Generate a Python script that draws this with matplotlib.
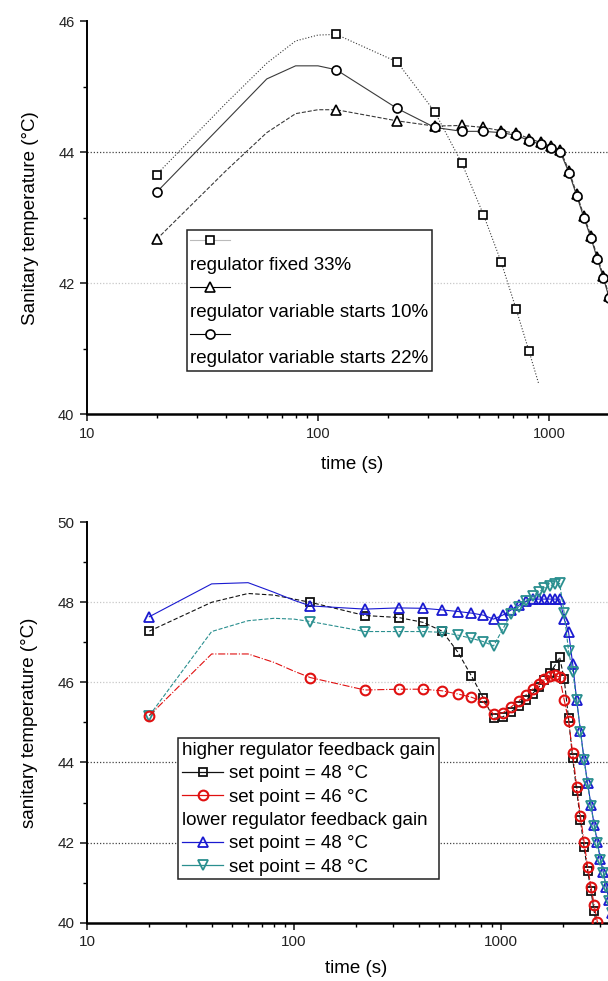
import matplotlib
matplotlib.use("Agg")
import matplotlib.pyplot as plt
from matplotlib.lines import Line2D
from matplotlib.ticker import LogLocator, FixedLocator, MultipleLocator, NullFormatter

plt.rcParams['font.family'] = ['Liberation Sans', 'DejaVu Sans']

# ---------------- data: top panel ----------------
t_fixed = [20, 40, 60, 80, 100, 120, 220, 320, 420, 520, 620, 720, 820, 900]
T_fixed = [43.66, 44.75, 45.36, 45.70, 45.79, 45.80, 45.38, 44.62, 43.83, 43.05,
           42.33, 41.61, 40.96, 40.48]

t_var = [20, 40, 60, 80, 100, 120, 220, 320, 420, 520, 620, 720, 820, 920, 1020,
         1120, 1220, 1320, 1420, 1520, 1620, 1720, 1820, 1920]
T_var10 = [42.67, 43.72, 44.30, 44.59, 44.65, 44.65, 44.48, 44.40, 44.41, 44.38,
           44.33, 44.29, 44.21, 44.15, 44.09, 44.03, 43.72, 43.36, 43.02, 42.72,
           42.40, 42.11, 41.81, 41.51]
T_var22 = [43.39, 44.48, 45.12, 45.32, 45.32, 45.26, 44.67, 44.38, 44.32, 44.32,
           44.30, 44.26, 44.18, 44.12, 44.06, 44.00, 43.69, 43.33, 42.99, 42.69,
           42.37, 42.08, 41.78, 41.48]

top_labels = ["regulator fixed 33%", "regulator variable starts 10%",
              "regulator variable starts 22%"]

# ---------------- data: bottom panel ----------------
t_b = [20, 40, 60, 80, 100, 120, 220, 320, 420, 520, 620, 720, 820, 920, 1020,
       1120, 1220, 1320, 1420, 1520, 1620, 1720, 1820, 1920, 2020, 2120, 2220,
       2320, 2420, 2520, 2620, 2720, 2820, 2920, 3020, 3120, 3220, 3320, 3420, 3520]

T_hi48 = [47.28, 48.00, 48.22, 48.18, 48.08, 48.00, 47.67, 47.62, 47.50, 47.28,
          46.75, 46.16, 45.62, 45.10, 45.14, 45.27, 45.41, 45.56, 45.72, 45.88,
          46.05, 46.24, 46.42, 46.63, 46.08, 45.10, 44.10, 43.30, 42.56, 41.88,
          41.30, 40.80, 40.28, 39.80]
T_hi46 = [45.17, 46.71, 46.71, 46.50, 46.28, 46.12, 45.81, 45.83, 45.83, 45.79,
          45.71, 45.63, 45.52, 45.21, 45.24, 45.39, 45.54, 45.69, 45.83, 45.95,
          46.08, 46.16, 46.18, 46.13, 45.56, 45.04, 44.23, 43.40, 42.66, 42.02,
          41.40, 40.90, 40.44, 40.02, 39.60]
T_lo48a = [47.64, 48.46, 48.49, 48.25, 48.05, 47.91, 47.83, 47.86, 47.85, 47.81,
           47.77, 47.73, 47.68, 47.58, 47.68, 47.81, 47.93, 48.02, 48.07, 48.08,
           48.08, 48.08, 48.08, 48.08, 47.58, 47.26, 46.46, 45.56, 44.79, 44.08,
           43.49, 42.94, 42.44, 42.02, 41.58, 41.27, 40.90, 40.57, 40.25, 39.95]
T_lo48b = [45.17, 47.27, 47.54, 47.60, 47.58, 47.52, 47.27, 47.27, 47.27, 47.25,
           47.18, 47.10, 47.02, 46.91, 47.33, 47.71, 47.89, 48.04, 48.16, 48.26,
           48.35, 48.41, 48.46, 48.47, 47.73, 46.78, 46.27, 45.56, 44.77, 44.06,
           43.47, 42.92, 42.42, 42.00, 41.56, 41.25, 40.88, 40.55, 40.23, 39.93]

bottom_headers = ["higher regulator feedback gain", "lower regulator feedback gain"]
bottom_labels = ["set point = 48 °C", "set point = 46 °C",
                 "set point = 48 °C", "set point = 48 °C"]


def marks(ts):
    return [((t - 20) % 100 == 0) for t in ts]


def origin_legend(ax, rows, **kw):
    handles = [h if h is not None else Line2D([], [], lw=0) for h, _ in rows]
    labels = [lab for _, lab in rows]
    leg = ax.legend(handles, labels, **kw)
    col = leg._legend_handle_box.get_children()[0]
    for (h, _), hp in zip(rows, col.get_children()):
        if h is None:
            da = hp.get_children()[0]
            da.width = 0
            hp.sep = 0
    leg.get_frame().set_linewidth(1.1)
    leg.get_frame().set_edgecolor('#222222')
    return leg


def style_axes(ax, tick_fs):
    ax.spines['top'].set_visible(False)
    ax.spines['right'].set_visible(False)
    ax.spines['left'].set_linewidth(1.4)
    ax.spines['bottom'].set_linewidth(1.8)
    ax.set_xscale('log')
    ax.xaxis.set_major_locator(FixedLocator([10, 100, 1000]))
    ax.xaxis.set_minor_locator(LogLocator(base=10, subs=range(2, 10)))
    ax.xaxis.set_minor_formatter(NullFormatter())
    ax.set_xticklabels(['10', '100', '1000'])
    ax.yaxis.set_minor_locator(MultipleLocator(1))
    ax.tick_params(which='major', direction='out', length=5, width=1.2, pad=4,
                   labelsize=tick_fs, colors='#222222')
    ax.tick_params(which='minor', direction='out', length=3, width=1.0)


fig = plt.figure(figsize=(6.08, 9.81), dpi=100)

# ---------------- top panel ----------------
ax1 = fig.add_axes([87 / 608, 566.7 / 981, 693 / 608, 393 / 981])
ax1.set_xlim(10, 10000)
ax1.set_ylim(40, 46)
style_axes(ax1, 10.5)
ax1.yaxis.set_major_locator(FixedLocator([40, 42, 44, 46]))
ax1.axhline(44, color='#444444', lw=0.9, ls=(0, (1, 1.5)), zorder=0)
ax1.axhline(42, color='#c8c8c8', lw=0.9, ls=(0, (1, 1.5)), zorder=0)

lc = '#3a3a3a'
ax1.plot(t_fixed, T_fixed, ls=':', color=lc, lw=0.8, marker='s', ms=6,
         mfc='white', mec='black', mew=1.2, markevery=marks(t_fixed), zorder=3)
ax1.plot(t_var, T_var10, ls='--', color=lc, lw=0.8, marker='^', ms=6.5,
         mfc='white', mec='black', mew=1.2, markevery=marks(t_var), zorder=3)
ax1.plot(t_var, T_var22, ls='-', color=lc, lw=0.8, marker='o', ms=6.5,
         mfc='white', mec='black', mew=1.2, markevery=marks(t_var), zorder=4)
ax1.set_xlabel('time (s)', fontsize=13.5)
ax1.xaxis.set_label_coords((352 - 87) / 693, (414.3 - 456) / 393)
ax1.set_ylabel('Sanitary temperature (°C)', fontsize=13.5, labelpad=14)

h_sq = Line2D([], [], color='#bbbbbb', lw=0.8, marker='s', ms=6, mfc='white',
              mec='black', mew=1.2)
h_tr = Line2D([], [], color='black', lw=0.8, marker='^', ms=6.5, mfc='white',
              mec='black', mew=1.2)
h_ci = Line2D([], [], color='black', lw=0.8, marker='o', ms=6.5, mfc='white',
              mec='black', mew=1.2)
origin_legend(ax1, [(h_sq, ''), (None, top_labels[0]), (h_tr, ''),
                    (None, top_labels[1]), (h_ci, ''), (None, top_labels[2])],
              loc='upper left', bbox_to_anchor=((186.7 - 87) / 693, (414.3 - 230) / 393),
              borderaxespad=0, fontsize=13.5, frameon=True, fancybox=False,
              framealpha=1, handlelength=2.1, handletextpad=0.3,
              labelspacing=0.33, borderpad=0.2)

# ---------------- bottom panel ----------------
ax2 = fig.add_axes([87 / 608, 58.3 / 981, 621 / 608, 400.5 / 981])
ax2.set_xlim(10, 10000)
ax2.set_ylim(40, 50)
style_axes(ax2, 11)
ax2.yaxis.set_major_locator(FixedLocator([40, 42, 44, 46, 48, 50]))
for yv, c in [(48, '#c8c8c8'), (46, '#c8c8c8'), (44, '#444444'), (42, '#444444')]:
    ax2.axhline(yv, color=c, lw=0.9, ls=(0, (1, 1.5)), zorder=0)

c_black, c_red, c_blue, c_teal = '#111111', '#e01010', '#1a1ad0', '#2a8f8f'
ax2.plot(t_b[:len(T_hi48)], T_hi48, ls=(0, (4, 2)), color=c_black, lw=0.8,
         marker='s', ms=6, mfc='none', mec=c_black, mew=1.3,
         markevery=marks(t_b[:len(T_hi48)]), zorder=3)
ax2.plot(t_b[:len(T_hi46)], T_hi46, ls='-.', color=c_red, lw=0.8,
         marker='o', ms=7, mfc='none', mec=c_red, mew=1.5,
         markevery=marks(t_b[:len(T_hi46)]), zorder=4)
ax2.plot(t_b, T_lo48a, ls='-', color=c_blue, lw=0.8,
         marker='^', ms=7, mfc='none', mec=c_blue, mew=1.3,
         markevery=marks(t_b), zorder=3)
ax2.plot(t_b, T_lo48b, ls='--', color=c_teal, lw=0.8,
         marker='v', ms=7, mfc='none', mec=c_teal, mew=1.3,
         markevery=marks(t_b), zorder=3)
ax2.set_xlabel('time (s)', fontsize=13.5)
ax2.xaxis.set_label_coords((356 - 87) / 621, (922.7 - 960) / 400.5)
ax2.set_ylabel('sanitary temperature (°C)', fontsize=13.5, labelpad=14)

hb = [Line2D([], [], color=c, lw=0.9, marker=m, ms=ms, mfc='none', mec=c, mew=mw)
      for c, m, ms, mw in [(c_black, 's', 6, 1.3), (c_red, 'o', 7, 1.5),
                           (c_blue, '^', 7, 1.3), (c_teal, 'v', 7, 1.3)]]
origin_legend(ax2, [(None, bottom_headers[0]), (hb[0], bottom_labels[0]),
                    (hb[1], bottom_labels[1]), (None, bottom_headers[1]),
                    (hb[2], bottom_labels[2]), (hb[3], bottom_labels[3])],
              loc='upper left', bbox_to_anchor=((178.3 - 87) / 621, (922.7 - 738.3) / 400.5),
              borderaxespad=0, fontsize=13.5, frameon=True, fancybox=False,
              framealpha=1, handlelength=2.2, handletextpad=0.3,
              labelspacing=0.33, borderpad=0.2)

fig.savefig('out.png', dpi=100)
